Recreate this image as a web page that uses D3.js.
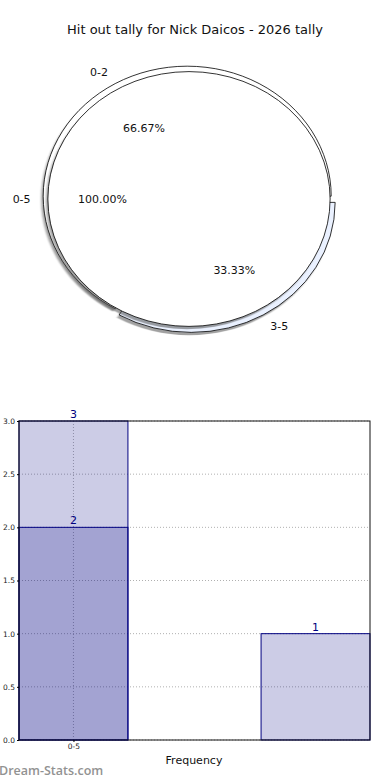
<!DOCTYPE html>
<html>
<head>
<meta charset="utf-8">
<script src="https://cdn.jsdelivr.net/npm/d3@7/dist/d3.min.js"></script>
<style>
  body { margin: 0; background: #fff; }
  svg { display: block; font-family: "DejaVu Sans", sans-serif; }
</style>
</head>
<body>
<div id="chart"></div>
<script>
// data
const titleText = "Hit out tally for Nick Daicos - 2026 tally";
const innerLabels = ["0-5"];
const innerValues = [3];
const outerLabels = ["0-2", "3-5"];
const outerValues = [2, 1];
const outerColors = ["#ffffff", "#eaf1ff"];
const outerExplode = [2.5, 3];

const barCats = ["0-5"];
const totalPos = [0];
const totalValues = [3];
const splitPos = [0, 1];
const splitValues = [2, 1];
const yTicks = [0, 0.5, 1.0, 1.5, 2.0, 2.5, 3.0];

const W = 390, H = 780;
const svg = d3.select("#chart").append("svg").attr("width", W).attr("height", H);

svg.append("text")
  .attr("x", 195).attr("y", 34)
  .attr("text-anchor", "middle")
  .attr("font-size", 13)
  .attr("fill", "#111")
  .text(titleText);

// ---- PIE (matplotlib style, stretched to an ellipse) ----
const cx = 189, cy = 199;
const sx = 1.44, sy = 1.30;
const R = 100;
const innerR = 98;

const defs = svg.append("defs");
defs.append("filter").attr("id", "blur")
  .append("feGaussianBlur").attr("stdDeviation", 0.6);

// matplotlib starts at 3 o'clock and goes counterclockwise
const pie = d3.pie().sort(null).startAngle(Math.PI / 2).endAngle(Math.PI / 2 - 2 * Math.PI);
const outerArcs = pie(outerValues);
const innerArcs = pie(innerValues);

const outerArc = d3.arc().innerRadius(0).outerRadius(R);
const innerArc = d3.arc().innerRadius(0).outerRadius(innerR);

function midAngle(d) { return (d.startAngle + d.endAngle) / 2; } // d3 angle
function dirX(a) { return Math.sin(a); }
function dirY(a) { return -Math.cos(a); }
function shift(i, d) {
  return [outerExplode[i] * dirX(midAngle(d)), outerExplode[i] * dirY(midAngle(d))];
}

const pieG = svg.append("g").attr("transform", `translate(${cx},${cy}) scale(${sx},${sy})`);

// outer pie: shadows then wedges
pieG.selectAll("path.oshadow").data(outerArcs).enter().append("path")
  .attr("class", "oshadow")
  .attr("transform", (d, i) => `translate(${shift(i, d)[0] - 1.4},${shift(i, d)[1] + 2.2})`)
  .attr("d", outerArc)
  .attr("fill", "#555").attr("opacity", 0.55)
  .attr("filter", "url(#blur)");

pieG.selectAll("path.outer").data(outerArcs).enter().append("path")
  .attr("class", "outer")
  .attr("transform", (d, i) => `translate(${shift(i, d)[0]},${shift(i, d)[1]})`)
  .attr("d", outerArc)
  .attr("fill", (d, i) => outerColors[i])
  .attr("stroke", "#000").attr("stroke-width", 0.8)
  .attr("vector-effect", "non-scaling-stroke");

// inner pie on top
pieG.selectAll("path.ishadow").data(innerArcs).enter().append("path")
  .attr("class", "ishadow")
  .attr("transform", "translate(-1.4,2.2)")
  .attr("d", innerArc)
  .attr("fill", "#555").attr("opacity", 0.55)
  .attr("filter", "url(#blur)");

pieG.selectAll("path.inner").data(innerArcs).enter().append("path")
  .attr("class", "inner")
  .attr("d", innerArc)
  .attr("fill", "#fff")
  .attr("stroke", "#000").attr("stroke-width", 0.8)
  .attr("vector-effect", "non-scaling-stroke");

// labels
function pieText(a, dist, off, txt, side) {
  const x = cx + sx * (dist + off) * dirX(a);
  const y = cy + sy * (dist + off) * dirY(a);
  let anchor = "middle";
  if (side) anchor = dirX(a) < 0 ? "end" : "start";
  svg.append("text")
    .attr("x", x).attr("y", y)
    .attr("dy", "0.35em")
    .attr("text-anchor", anchor)
    .attr("font-size", 11)
    .attr("fill", "#111")
    .text(txt);
}
const outerTotal = d3.sum(outerValues);
outerArcs.forEach((d, i) => {
  const a = midAngle(d);
  pieText(a, 110, outerExplode[i], outerLabels[i], true);
  pieText(a, 60, outerExplode[i], (100 * outerValues[i] / outerTotal).toFixed(2) + "%", false);
});
const innerTotal = d3.sum(innerValues);
innerArcs.forEach((d, i) => {
  const a = midAngle(d);
  pieText(a, 110, 0, innerLabels[i], true);
  pieText(a, 60, 0, (100 * innerValues[i] / innerTotal).toFixed(2) + "%", false);
});

// ---- BAR CHART ----
const bw = 0.45;
const x = d3.scaleLinear().domain([-bw / 2, 1 + bw / 2]).range([19, 370]);
const y = d3.scaleLinear().domain([0, 3]).range([740, 421]);
const navy = "#000080";

const grid = svg.append("g");
grid.selectAll("line.gy").data(yTicks).enter().append("line")
  .attr("x1", x.range()[0]).attr("x2", x.range()[1])
  .attr("y1", d => y(d)).attr("y2", d => y(d))
  .attr("stroke", "#b0b0b0").attr("stroke-width", 1)
  .attr("stroke-dasharray", "1,2");
grid.selectAll("line.gx").data(totalPos).enter().append("line")
  .attr("x1", d => x(d)).attr("x2", d => x(d))
  .attr("y1", y.range()[0]).attr("y2", y.range()[1])
  .attr("stroke", "#b0b0b0").attr("stroke-width", 1)
  .attr("stroke-dasharray", "1,2");

function drawBars(pos, vals) {
  svg.append("g").selectAll("rect").data(vals).enter().append("rect")
    .attr("x", (d, i) => x(pos[i] - bw / 2))
    .attr("width", x(bw) - x(0))
    .attr("y", d => y(d))
    .attr("height", d => y(0) - y(d))
    .attr("fill", navy).attr("fill-opacity", 0.2)
    .attr("stroke", navy).attr("stroke-width", 1);
  svg.append("g").selectAll("text").data(vals).enter().append("text")
    .attr("x", (d, i) => x(pos[i]))
    .attr("y", d => y(d) - 3)
    .attr("text-anchor", "middle")
    .attr("font-size", 11)
    .attr("fill", navy)
    .text(d => d);
}
drawBars(totalPos, totalValues);
drawBars(splitPos, splitValues);

// frame
svg.append("rect")
  .attr("x", x.range()[0]).attr("y", y.range()[1])
  .attr("width", x.range()[1] - x.range()[0])
  .attr("height", y.range()[0] - y.range()[1])
  .attr("fill", "none").attr("stroke", "#111").attr("stroke-width", 1);

// y axis
const yAxis = svg.append("g")
  .attr("transform", `translate(${x.range()[0]},0)`)
  .call(d3.axisLeft(y).tickValues(yTicks).tickFormat(d3.format(".1f")).tickSize(2).tickPadding(2));
yAxis.select(".domain").remove();
yAxis.selectAll("text").attr("font-size", 7.5).attr("fill", "#222").attr("font-family", "DejaVu Sans");

// x axis
const xAxis = svg.append("g")
  .attr("transform", `translate(0,${y.range()[0]})`)
  .call(d3.axisBottom(x).tickValues(totalPos).tickFormat((d, i) => barCats[i]).tickSize(2).tickPadding(2));
xAxis.select(".domain").remove();
xAxis.selectAll("text").attr("font-size", 7.5).attr("fill", "#222").attr("font-family", "DejaVu Sans");

svg.append("text")
  .attr("x", 194).attr("y", 764)
  .attr("text-anchor", "middle")
  .attr("font-size", 11)
  .attr("fill", "#111")
  .text("Frequency");

svg.append("text")
  .attr("x", -1).attr("y", 775)
  .attr("font-family", "Open Sans, sans-serif")
  .attr("font-weight", 600)
  .attr("font-size", 12.5)
  .attr("fill", "#929292")
  .text("Dream-Stats.com");
</script>
</body>
</html>
